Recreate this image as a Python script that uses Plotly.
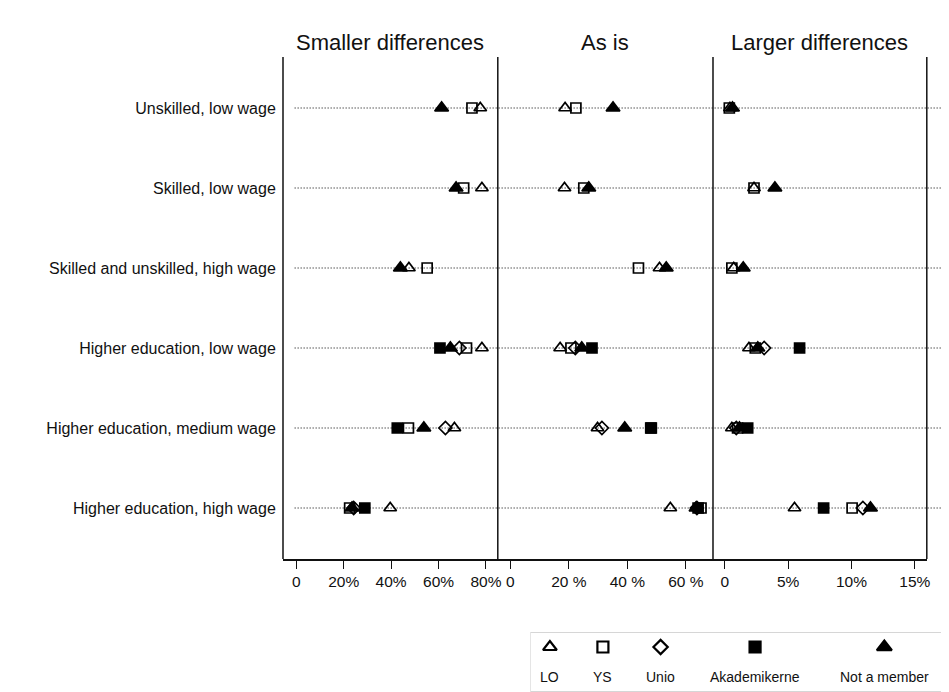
import plotly.graph_objects as go

# ---------------- data ----------------
categories = [
    "Unskilled, low wage",
    "Skilled, low wage",
    "Skilled and unskilled, high wage",
    "Higher education, low wage",
    "Higher education, medium wage",
    "Higher education, high wage",
]
series = ["LO", "YS", "Unio", "Akademikerne", "Not a member"]
panels = ["Smaller differences", "As is", "Larger differences"]

# Smaller differences (%)
smaller_LO = [77.6, 78.3, 47.5, 78.3, 66.7, 39.6]
smaller_YS = [74.1, 70.6, 55.2, 71.8, 47.3, 22.5]
smaller_Unio = [None, None, None, 68.8, 62.9, 24.2]
smaller_Akad = [None, None, None, 60.6, 42.6, 28.9]
smaller_NotMember = [61.3, 67.4, 43.9, 65.0, 53.8, 23.5]

# As is (%)
asis_LO = [18.7, 18.5, 51.0, 17.0, 29.8, 54.7]
asis_YS = [22.4, 25.1, 43.8, 20.7, 48.0, 65.2]
asis_Unio = [None, None, None, 22.2, 31.3, 63.8]
asis_Akad = [None, None, None, 27.9, 48.2, 64.2]
asis_NotMember = [35.1, 26.8, 53.3, 24.4, 39.1, 63.5]

# Larger differences (%)
larger_LO = [0.4, 2.3, 0.7, 1.9, 0.55, 5.5]
larger_YS = [0.35, 2.3, 0.55, 2.4, 1.0, 10.05]
larger_Unio = [None, None, None, 3.1, 0.9, 10.9]
larger_Akad = [None, None, None, 5.9, 1.8, 7.8]
larger_NotMember = [0.6, 3.95, 1.45, 2.6, 1.15, 11.5]

tick_vals_1 = [0, 20, 40, 60, 80]
tick_text_1 = ["0", "20%", "40%", "60%", "80%"]
tick_vals_2 = [0, 20, 40, 60]
tick_text_2 = ["0", "20 %", "40 %", "60 %"]
tick_vals_3 = [0, 5, 10, 15]
tick_text_3 = ["0", "5%", "10%", "15%"]

# ---------------- styling ----------------
FONT = "Liberation Sans, Arial, sans-serif"
INK = "#111111"
symbols = {
    "LO": "triangle-up-open",
    "YS": "square-open",
    "Unio": "diamond-open",
    "Akademikerne": "square",
    "Not a member": "triangle-up",
}
sizes = {"LO": 11, "YS": 10, "Unio": 10, "Akademikerne": 10, "Not a member": 12}

panel_data = [
    [smaller_LO, smaller_YS, smaller_Unio, smaller_Akad, smaller_NotMember],
    [asis_LO, asis_YS, asis_Unio, asis_Akad, asis_NotMember],
    [larger_LO, larger_YS, larger_Unio, larger_Akad, larger_NotMember],
]

# page has an 8px body margin: work in screen pixels and convert
OFF = 8
W, H = 949 - OFF, 692 - OFF
L_PX, T_PX = 283.3, 57          # screen coords of plot area top-left
plot_w = (W + OFF) - L_PX
plot_h = (H + OFF) - T_PX


def fx(px):
    return (px - L_PX) / plot_w


def fy(py):
    return (H + OFF - py) / plot_h


borders_px = [283.3, 499.3, 715.7, 930.7]
domains = [[fx(borders_px[i]), fx(borders_px[i + 1])] for i in range(3)]
ranges = [[-5.62, 85.0], [-4.32, 69.3], [-0.94, 15.95]]
tick_vals = [tick_vals_1, tick_vals_2, tick_vals_3]
tick_text = [tick_text_1, tick_text_2, tick_text_3]
y_dom = [fy(559), 1.0]

fig = go.Figure()

for p in range(3):
    xa = "x" if p == 0 else f"x{p + 1}"
    ya = "y" if p == 0 else f"y{p + 1}"
    for s, vals in zip(series, panel_data[p]):
        xs = [v for v in vals if v is not None]
        ys = [c for c, v in zip(categories, vals) if v is not None]
        fig.add_trace(go.Scatter(
            x=xs, y=ys, mode="markers", xaxis=xa, yaxis=ya,
            name=s, showlegend=False, cliponaxis=False,
            marker=dict(symbol=symbols[s], size=sizes[s], color="black",
                        line=dict(color="black", width=1.7)),
        ))

# legend drawn on its own small axis (screen-pixel units)
legend_x = [551.7, 605, 663, 758, 888]
legend_sym_y = 647
legend_lab_y = 677
for s, lx in zip(series, legend_x):
    fig.add_trace(go.Scatter(
        x=[lx], y=[legend_sym_y], mode="markers", xaxis="x4", yaxis="y4",
        showlegend=False, cliponaxis=False, hoverinfo="skip",
        marker=dict(symbol=symbols[s], size=sizes[s] + 1, color="black",
                    line=dict(color="black", width=2.2)),
    ))

layout = dict(
    width=W, height=H,
    margin=dict(l=L_PX - OFF, r=0, t=T_PX - OFF, b=0),
    paper_bgcolor="white", plot_bgcolor="white",
    font=dict(family=FONT, color=INK, size=14),
    showlegend=False,
)

for p in range(3):
    xk = "xaxis" if p == 0 else f"xaxis{p + 1}"
    yk = "yaxis" if p == 0 else f"yaxis{p + 1}"
    ya = "y" if p == 0 else f"y{p + 1}"
    layout[xk] = dict(
        domain=domains[p], range=ranges[p], anchor=ya,
        tickvals=tick_vals[p], ticktext=tick_text[p],
        ticks="outside", ticklen=8, tickwidth=1.3, tickcolor=INK,
        showline=True, linecolor=INK, linewidth=1.5,
        showgrid=False, zeroline=False,
        tickfont=dict(family=FONT, size=15.5, color=INK),
    )
    layout[yk] = dict(
        domain=y_dom, anchor="x" if p == 0 else f"x{p + 1}",
        type="category", categoryorder="array", categoryarray=categories,
        range=[len(categories) - 1 + 0.6375, -0.6375],
        showgrid=False, zeroline=False, showline=False,
        showticklabels=(p == 0),
        ticks="outside" if p == 0 else "", ticklen=3, tickcolor="rgba(0,0,0,0)",
        tickfont=dict(family=FONT, size=16, color=INK),
    )

layout["xaxis4"] = dict(domain=[fx(532), 1.0], range=[532, 949], anchor="y4",
                        visible=False, fixedrange=True)
layout["yaxis4"] = dict(domain=[0, fy(632)], range=[692, 632], anchor="x4",
                        visible=False, fixedrange=True)

shapes = []
# dotted guide lines per category
for i, c in enumerate(categories):
    shapes.append(dict(type="line", xref="paper", yref="y",
                       x0=fx(295), x1=1.0, y0=i, y1=i, layer="below",
                       line=dict(color="#000000", width=1.2, dash="1px,2px")))
# panel borders
for bx in borders_px:
    shapes.append(dict(type="line", xref="paper", yref="paper",
                       x0=fx(bx), x1=fx(bx), y0=y_dom[0], y1=1.0,
                       line=dict(color=INK, width=1.5)))
# legend box
shapes.append(dict(type="rect", xref="x4", yref="y4",
                   x0=532, x1=1000, y0=632.5, y1=691.5,
                   line=dict(color="#d6d6d6", width=1.2)))
layout["shapes"] = shapes

annotations = []
for p, title in enumerate(panels):
    annotations.append(dict(
        text=title, xref="paper", yref="paper",
        x=(domains[p][0] + domains[p][1]) / 2, y=fy(42),
        xanchor="center", yanchor="middle", showarrow=False,
        font=dict(family=FONT, size=22, color=INK),
    ))
for s, lx in zip(series, legend_x):
    annotations.append(dict(
        text=s, xref="x4", yref="y4", x=lx, y=legend_lab_y,
        xanchor="center", yanchor="middle", showarrow=False,
        font=dict(family=FONT, size=14, color=INK),
    ))
layout["annotations"] = annotations

fig.update_layout(**layout)
fig.write_html("out.html")
